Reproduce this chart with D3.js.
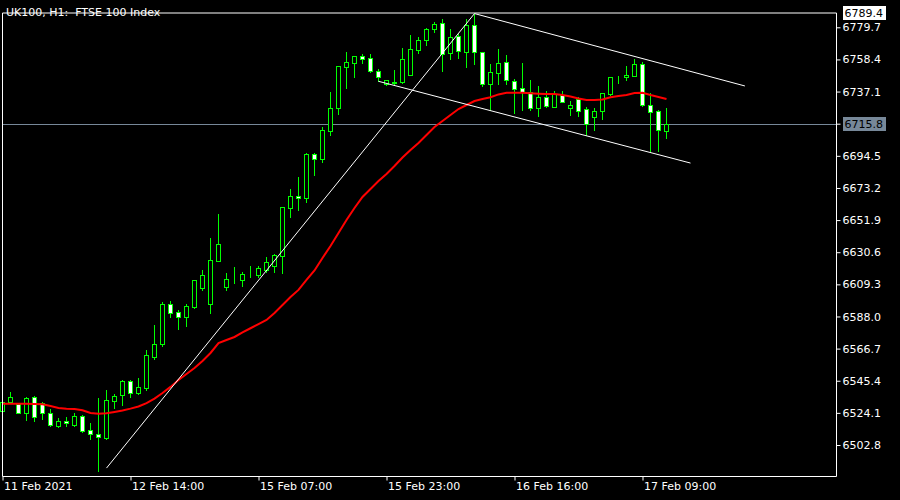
<!DOCTYPE html>
<html><head><meta charset="utf-8">
<script src="https://cdn.jsdelivr.net/npm/d3@7"></script>
<style>
body{margin:0;background:#000}
svg{display:block}
text{font-family:"DejaVu Sans",sans-serif;font-size:11px}
</style>
</head><body>
<svg id="c" width="900" height="500"></svg>
<script>
const title = "UK100, H1:  FTSE 100 Index";
const open  = [6525.5,6531.1,6529.8,6523.8,6534.4,6530.8,6523.8,6515.6,6518.5,6516.3,6522.0,6512.5,6509.9,6507.2,6531.8,6535.7,6545.0,6537.1,6540.8,6561.3,6569.6,6596.1,6591.0,6587.9,6594.3,6606.9,6596.5,6625.0,6607.7,6612.5,6612.0,6616.0,6615.5,6619.0,6621.7,6628.3,6659.7,6667.7,6666.3,6695.5,6692.2,6710.8,6725.9,6753.6,6756.2,6760.5,6759.1,6750.7,6742.1,6742.8,6743.6,6748.3,6764.9,6771.1,6778.4,6782.4,6762.5,6773.9,6763.5,6781.0,6763.1,6741.9,6749.2,6756.5,6743.9,6739.3,6736.6,6726.5,6733.3,6727.1,6734.5,6725.9,6732.0,6725.3,6720.4,6724.0,6735.5,6745.9,6746.6,6747.6,6755.2,6728.0,6724.2,6710.8];
const high  = [6533.3,6537.7,6530.3,6534.8,6535.3,6531.6,6526.5,6520.5,6521.2,6523.8,6522.9,6517.2,6534.0,6539.3,6536.8,6545.6,6545.9,6547.2,6565.8,6582.3,6597.4,6598.3,6592.3,6596.3,6612.2,6618.8,6640.0,6655.9,6616.8,6620.6,6617.3,6621.5,6621.5,6627.4,6629.1,6660.6,6672.5,6680.5,6696.2,6696.4,6713.4,6736.8,6754.0,6763.3,6760.7,6762.2,6762.0,6752.1,6744.8,6751.4,6766.2,6774.8,6773.1,6779.2,6783.0,6785.0,6778.8,6775.3,6785.0,6788.8,6763.3,6755.4,6765.3,6761.3,6745.2,6755.8,6744.8,6740.8,6737.5,6737.5,6737.5,6730.8,6733.7,6727.1,6726.2,6736.2,6746.8,6747.6,6753.8,6758.7,6756.4,6736.3,6724.9,6726.4];
const low   = [6524.0,6530.6,6523.8,6519.4,6518.9,6519.8,6515.4,6514.5,6515.4,6515.6,6511.4,6507.0,6485.8,6506.8,6527.5,6529.1,6534.4,6536.6,6539.3,6560.0,6568.4,6587.9,6579.9,6581.7,6593.8,6605.6,6590.5,6624.8,6605.6,6610.4,6608.4,6614.4,6614.4,6617.7,6617.7,6616.6,6654.1,6658.8,6664.1,6682.0,6690.6,6708.5,6722.4,6739.5,6747.0,6756.2,6750.3,6743.9,6741.6,6742.1,6743.0,6748.1,6762.5,6768.0,6776.8,6750.9,6758.7,6759.1,6753.6,6755.2,6740.8,6724.9,6742.1,6741.9,6723.1,6724.9,6724.9,6720.9,6727.1,6726.9,6730.3,6721.6,6720.6,6708.3,6711.8,6718.7,6734.8,6743.1,6744.8,6747.4,6727.2,6697.9,6697.9,6706.1];
const close = [6531.5,6534.4,6524.2,6533.8,6521.2,6523.8,6515.9,6518.5,6517.2,6522.0,6511.9,6509.9,6507.9,6532.4,6535.3,6545.2,6537.1,6541.3,6562.3,6569.6,6596.1,6590.5,6587.9,6594.8,6612.0,6615.3,6625.2,6635.9,6612.6,6612.2,6616.0,6616.1,6619.9,6624.1,6628.6,6660.4,6667.7,6666.3,6695.7,6692.2,6711.6,6726.0,6753.9,6756.5,6760.5,6758.9,6750.5,6746.6,6744.6,6743.6,6758.5,6765.1,6771.1,6778.4,6781.7,6761.8,6773.1,6763.8,6781.2,6763.1,6742.1,6749.9,6755.8,6744.8,6739.0,6736.6,6726.4,6733.3,6727.5,6735.3,6730.5,6728.0,6724.4,6715.9,6724.2,6736.0,6746.6,6745.9,6748.1,6755.4,6728.0,6723.4,6711.4,6715.8];
const ma    = [6530.2,6530.2,6530.2,6530.2,6530.0,6529.8,6528.7,6527.3,6526.9,6526.7,6525.8,6524.0,6523.5,6523.8,6524.7,6525.7,6526.9,6528.3,6530.6,6533.6,6537.3,6541.3,6545.9,6549.9,6553.8,6558.5,6563.8,6570.4,6572.4,6574.4,6577.4,6580.2,6583.0,6585.7,6590.3,6595.6,6600.9,6605.6,6612.2,6618.5,6626.8,6634.7,6643.3,6652.0,6659.9,6667.2,6672.5,6677.8,6682.5,6687.8,6693.4,6698.4,6703.0,6708.3,6713.6,6717.6,6721.6,6725.5,6728.2,6730.8,6732.2,6733.3,6735.2,6736.3,6736.3,6736.3,6736.0,6735.7,6735.5,6735.5,6734.8,6733.8,6732.5,6731.5,6731.5,6731.8,6733.3,6734.2,6734.8,6736.1,6736.3,6734.8,6733.5,6732.2];
const xTickBars = [0,16,32,48,64,80];
const xTickLabels = ["11 Feb 2021","12 Feb 14:00","15 Feb 07:00","15 Feb 23:00","16 Feb 16:00","17 Feb 09:00"];
const yTickValues = [6779.7,6758.4,6737.1,6715.8,6694.5,6673.2,6651.9,6630.6,6609.3,6588.0,6566.7,6545.4,6524.1,6502.8];
const currentPrice = 6715.8;
const topPrice = 6789.4;
const trendUp = [[13,6487.5],[59,6788.8]];
const channelTop = [[59,6788.8],[92.8,6740.8]];
const channelBottom = [[47,6743.9],[86,6689.7]];

const svg = d3.select("#c");
const L = 2.5, R = 836.5, T = 13, B = 476.5;
const x = d3.scaleLinear().domain([0,104]).range([2.5,834.5]);
const y = d3.scaleLinear().domain([6502.8,6779.7]).range([445,27.3]);
const snap = v => Math.round(v) + 0.5;

svg.append("rect").attr("width",900).attr("height",500).attr("fill","#000");

// bid line
svg.append("line").attr("x1",L).attr("x2",R)
  .attr("y1",snap(y(currentPrice))).attr("y2",snap(y(currentPrice)))
  .attr("stroke","#778899").attr("stroke-width",1);

// candles
const idx = d3.range(open.length);
const g = svg.append("g");
g.selectAll("line.w").data(idx).join("line")
  .attr("x1",i=>x(i)).attr("x2",i=>x(i))
  .attr("y1",i=>Math.round(y(high[i]))).attr("y2",i=>Math.round(y(low[i]))+1)
  .attr("stroke","#00ff00").attr("stroke-width",1);
g.selectAll("rect.b").data(idx).join("rect")
  .attr("x",i=>x(i)-2)
  .attr("y",i=>snap(y(Math.max(open[i],close[i]))))
  .attr("width",4)
  .attr("height",i=>Math.max(0, Math.round(y(Math.min(open[i],close[i]))) - Math.round(y(Math.max(open[i],close[i])))))
  .attr("fill",i=>close[i]>=open[i] ? "#000" : "#fff")
  .attr("stroke","#00ff00").attr("stroke-width",1);

// moving average
svg.append("path").datum(idx)
  .attr("d", d3.line().x(i=>x(i)).y(i=>y(ma[i])))
  .attr("fill","none").attr("stroke","#ff0000").attr("stroke-width",2);

// trend lines
[trendUp, channelTop, channelBottom].forEach(seg=>{
  svg.append("line")
    .attr("x1",x(seg[0][0])).attr("y1",y(seg[0][1]))
    .attr("x2",x(seg[1][0])).attr("y2",y(seg[1][1]))
    .attr("stroke","#fff").attr("stroke-width",1);
});

// frame
svg.append("path")
  .attr("d",`M${L},${B}V${T}H${R}V${B}Z`)
  .attr("fill","none").attr("stroke","#fff").attr("stroke-width",1);

// y axis (tick label at the bid price is covered by the bid box, as in the reference)
const ya = svg.append("g").attr("transform",`translate(${R},0)`)
  .call(d3.axisRight(y).tickValues(yTickValues).tickFormat(d3.format(".1f")).tickSize(4).tickPadding(2));
ya.select(".domain").remove();
ya.selectAll("line").attr("stroke","#fff");
ya.selectAll("text").attr("fill","#fff").style("font-family","DejaVu Sans").style("font-size","11px");
ya.selectAll(".tick").filter(d=>Math.abs(d-currentPrice)<1e-6).select("text").remove();

// x axis
const xa = svg.append("g").attr("transform",`translate(0,${B})`)
  .call(d3.axisBottom(x).tickValues(xTickBars).tickFormat((d,i)=>xTickLabels[i]).tickSize(4).tickPadding(2));
xa.select(".domain").remove();
xa.selectAll("line").attr("stroke","#fff");
xa.selectAll("text").attr("fill","#fff").attr("text-anchor","start").attr("dx",1)
  .style("font-family","DejaVu Sans").style("font-size","11px");

// price labels
function priceBox(v, fill){
  const cy = y(v);
  svg.append("rect").attr("x",843).attr("y",Math.round(cy)-7).attr("width",43).attr("height",14).attr("fill",fill);
  svg.append("text").attr("x",844.5).attr("y",cy).attr("dy","0.36em")
    .attr("fill","#000").text(d3.format(".1f")(v));
}
priceBox(topPrice,"#fff");
priceBox(currentPrice,"#778899");

// title
svg.append("text").attr("x",6).attr("y",16).attr("fill","#fff")
  .style("white-space","pre").text(title);
</script>
</body></html>
